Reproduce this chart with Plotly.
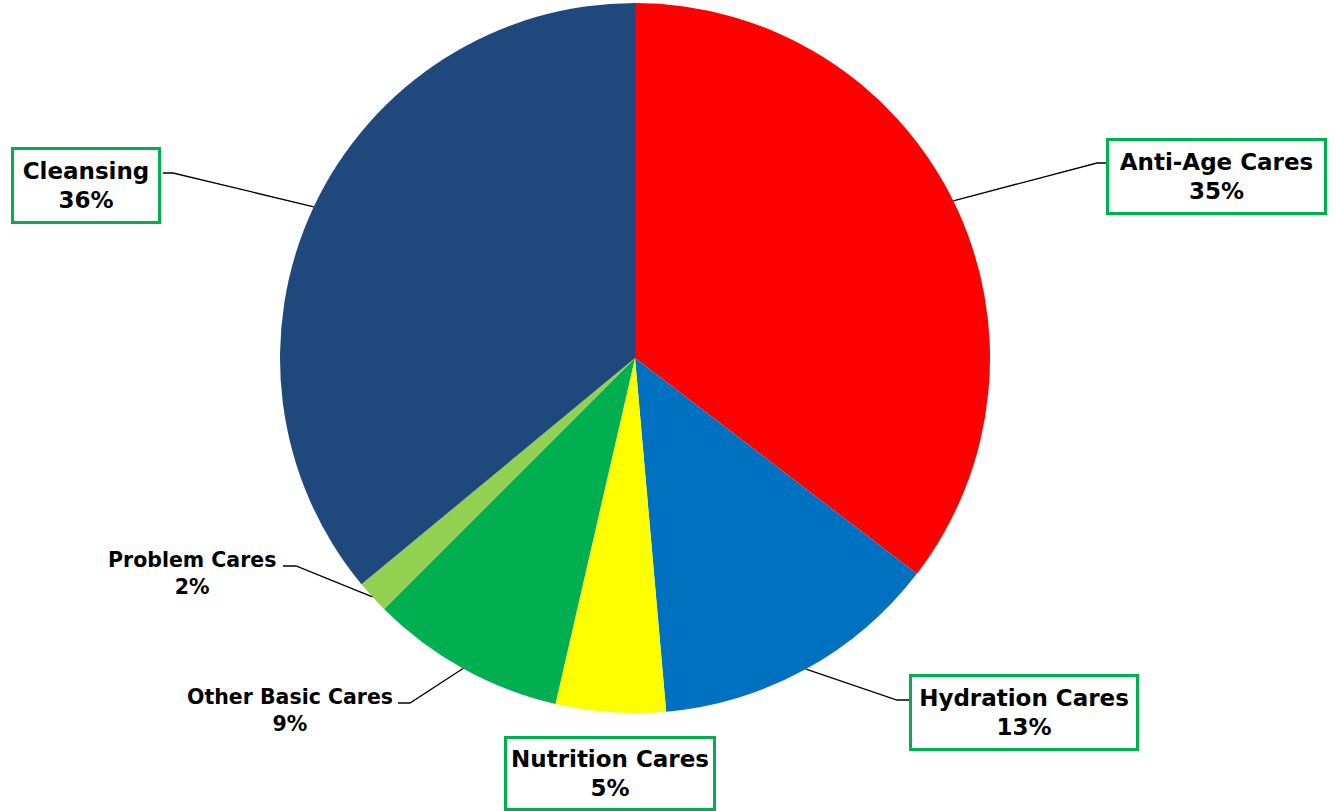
import math
import plotly.graph_objects as go

# ---- data ----
categories = ["Anti-Age Cares", "Hydration Cares", "Nutrition Cares",
              "Other Basic Cares", "Problem Cares", "Cleansing"]
shares = [35.4, 13.2, 5.0, 8.9, 1.5, 36.0]
colors = ["#FF0000", "#0070C0", "#FFFF00", "#00B050", "#92D050", "#1F497D"]
boxed = [True, True, True, False, False, True]

W, H = 1336, 811
CX, CY, R = 635, 358, 355  # pie centre / radius in pixels (layout)


def px(x):
    return x / W


def py(y):
    return 1 - y / H


def pct(v):
    return int(math.floor(v / sum(shares) * 100 + 0.5))


fig = go.Figure(go.Pie(
    labels=categories, values=shares, sort=False, direction="clockwise",
    rotation=0, textinfo="none", hoverinfo="label+percent",
    marker=dict(colors=colors, line=dict(width=0)),
    domain=dict(x=[px(CX - R), px(CX + R)], y=[py(CY + R), py(CY - R)]),
    showlegend=False,
))

# label layout: (centre x, centre y, box w, box h, elbow x, elbow y, end x) -- positions only
label_pos = {
    "Anti-Age Cares": (1216, 176, 215, 71, 1097, 163, 1107),
    "Hydration Cares": (1023.5, 712, 224, 71, 897, 700, 910),
    "Nutrition Cares": (609.5, 773, 206, 69, None, None, None),
    "Other Basic Cares": (289.5, 710, None, None, 410, 703, 398),
    "Problem Cares": (192, 573, None, None, 296, 566, 283),
    "Cleansing": (85.5, 186, 144, 71, 173, 173, 163),
}

total = sum(shares)
cum = 0.0
shapes = []
annotations = []
FONT = "DejaVu Sans"
for cat, v, bx in zip(categories, shares, boxed):
    mid = (cum + v / 2) / total * 2 * math.pi
    cum += v
    sx = CX + R * math.sin(mid)
    sy = CY - R * math.cos(mid)
    lx, ly, bw, bh, ex, ey, tx = label_pos[cat]
    if ex is not None:
        shapes.append(dict(
            type="path", xref="paper", yref="paper",
            path=f"M {px(sx)},{py(sy)} L {px(ex)},{py(ey)} L {px(tx)},{py(ey)}",
            line=dict(color="black", width=1.3)))
    txt = f"{cat}<br>{pct(v)}%"
    ann = dict(
        x=px(lx), y=py(ly), xref="paper", yref="paper", xanchor="center",
        yanchor="middle", text=txt, showarrow=False, align="center",
        valign="middle",
    )
    if bx:
        ann.update(font=dict(family=FONT, size=23, color="black", weight="bold"),
                   bordercolor="#00B050", borderwidth=3, borderpad=0,
                   bgcolor="white", width=bw, height=bh)
    else:
        ann.update(font=dict(family=FONT, size=20.5, color="black", weight="bold"))
    annotations.append(ann)

fig.update_layout(
    width=W, height=H, margin=dict(l=0, r=0, t=0, b=0),
    paper_bgcolor="white", plot_bgcolor="white",
    shapes=shapes, annotations=annotations,
)

fig.write_html("out.html")
